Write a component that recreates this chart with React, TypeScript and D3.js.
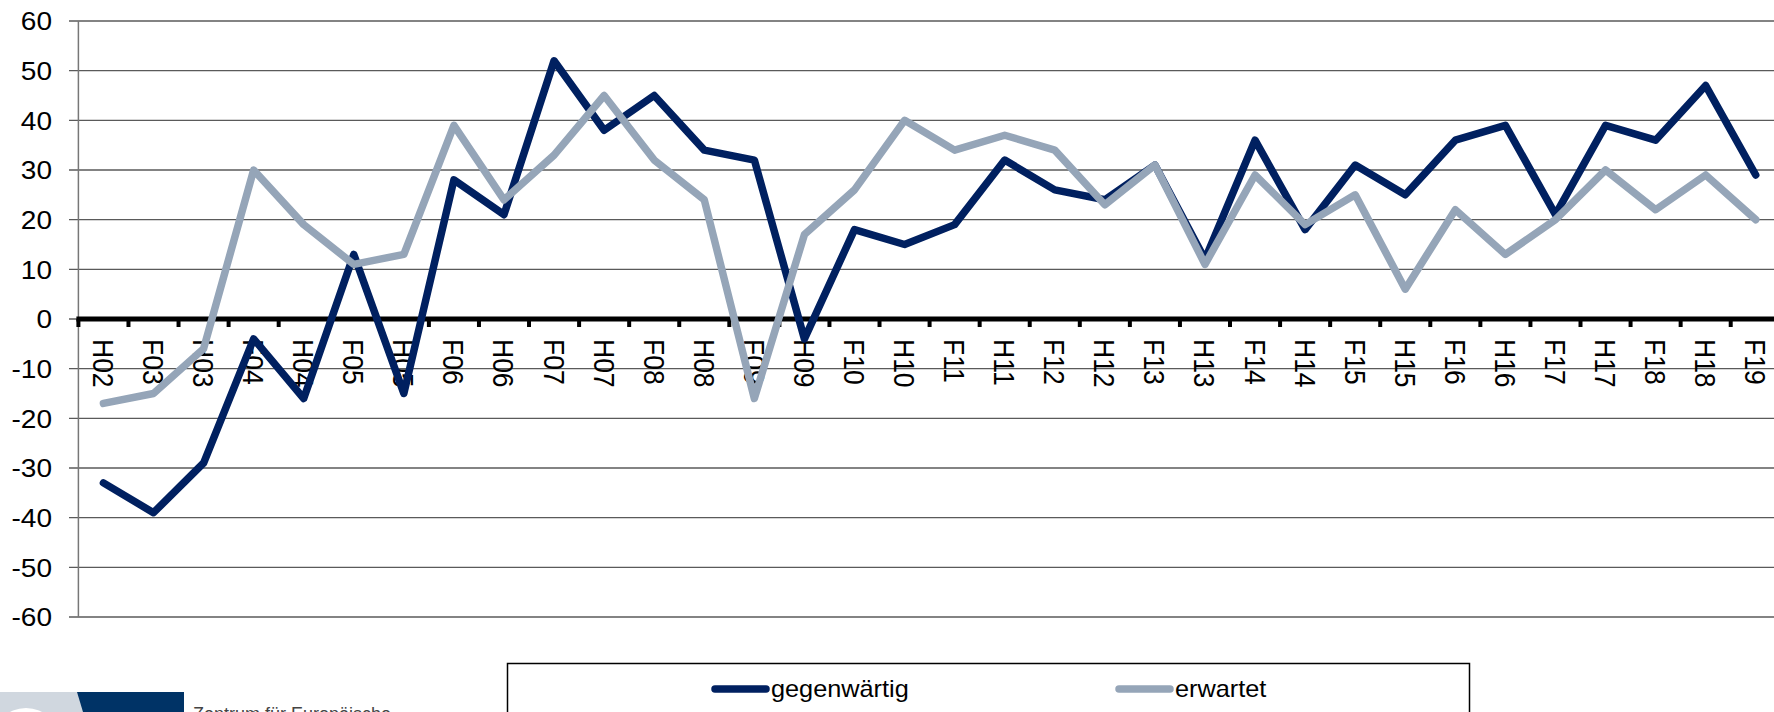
import React from 'react';
import * as d3 from 'd3';

const categories = [
  'H02', 'F03', 'H03', 'F04', 'H04', 'F05', 'H05', 'F06', 'H06', 'F07', 'H07', 'F08',
  'H08', 'F09', 'H09', 'F10', 'H10', 'F11', 'H11', 'F12', 'H12', 'F13', 'H13', 'F14',
  'H14', 'F15', 'H15', 'F16', 'H16', 'F17', 'H17', 'F18', 'H18', 'F19',
];

const gegenwaertig = [
  -33, -39, -29, -4, -16, 13, -15, 28, 21, 52, 38, 45, 34, 32, -4, 18, 15, 19, 32, 26,
  24, 31, 12, 36, 18, 31, 25, 36, 39, 21, 39, 36, 47, 29,
];

const erwartet = [
  -17, -15, -6, 30, 19, 11, 13, 39, 24, 33, 45, 32, 24, -16, 17, 26, 40, 34, 37, 34,
  23, 31, 11, 29, 19, 25, 6, 22, 13, 20, 30, 22, 29, 20,
];

const yTicks = [60, 50, 40, 30, 20, 10, 0, -10, -20, -30, -40, -50, -60];

const seriesNames = ['gegenwärtig', 'erwartet'];
const seriesColors = ['#002060', '#95a5b8'];

const W = 1774;
const H = 712;
const plot = { left: 78.4, top: 21, bottom: 617, catWidth: 50.07 };
const font = '"Liberation Sans", Arial, sans-serif';
const SX = 1.1; // original text looks slightly stretched horizontally

export default function App() {
  const x = d3.scaleBand()
    .domain(categories)
    .range([plot.left, plot.left + plot.catWidth * categories.length])
    .padding(0);

  const y = d3.scaleLinear()
    .domain([-60, 60])
    .range([plot.bottom, plot.top]);

  const cx = (c: string) => (x(c) || 0) + x.bandwidth() / 2;

  const line = d3.line<number>()
    .x((_, i) => cx(categories[i]))
    .y(d => y(d));

  const y0 = y(0);
  const boundaries = categories.map(c => x(c) || 0);

  return (
    <svg
      width={W}
      height={H}
      style={{ position: 'absolute', left: 0, top: 0, background: '#fff' }}
      fontFamily={font}
    >
      {/* horizontal gridlines + y tick marks */}
      {yTicks.map(t => (
        <line key={t} x1={69} x2={W} y1={y(t)} y2={y(t)} stroke="#5a5a5a" strokeWidth={1.3} />
      ))}
      {/* y axis */}
      <line x1={plot.left} x2={plot.left} y1={plot.top} y2={plot.bottom} stroke="#777" strokeWidth={1.5} />
      {yTicks.map(t => (
        <text
          key={'l' + t}
          transform={`translate(52,${y(t)}) scale(${SX},1)`}
          textAnchor="end"
          dy="0.36em"
          fontSize={25.5}
          fill="#000"
        >
          {t}
        </text>
      ))}

      {/* category labels, rotated */}
      {categories.map(c => (
        <text
          key={c}
          transform={`translate(${cx(c)},339) scale(${SX},1) rotate(90)`}
          textAnchor="start"
          dy="0.36em"
          fontSize={26.5}
          fill="#000"
        >
          {c}
        </text>
      ))}

      {/* zero axis with tick marks */}
      <line x1={plot.left - 2} x2={W} y1={y0} y2={y0} stroke="#000" strokeWidth={5} />
      {boundaries.map((b, i) => (
        <line key={'t' + i} x1={b} x2={b} y1={y0} y2={y0 + 8} stroke="#000" strokeWidth={4} />
      ))}

      {/* series */}
      {[gegenwaertig, erwartet].map((s, i) => (
        <path
          key={seriesNames[i]}
          d={line(s) || ''}
          fill="none"
          stroke={seriesColors[i]}
          strokeWidth={7.5}
          strokeLinejoin="round"
          strokeLinecap="round"
        />
      ))}

      {/* legend */}
      <rect x={507.5} y={663.5} width={962} height={80} fill="#fff" stroke="#000" strokeWidth={1.5} />
      {seriesNames.map((name, i) => {
        const lx = i === 0 ? 711 : 1115;
        return (
          <g key={name}>
            <line x1={lx + 4} x2={lx + 55} y1={689} y2={689} stroke={seriesColors[i]} strokeWidth={7.5} strokeLinecap="round" />
            <text transform={`translate(${lx + 60},697) scale(${SX},1)`} fontSize={23} fill="#000">
              {name}
            </text>
          </g>
        );
      })}

      {/* logo, cut off at the bottom edge */}
      <path d="M0,692 L78,692 L84,712 L0,712 Z" fill="#d0d7df" />
      <circle cx={26} cy={742} r={34} fill="#fff" />
      <path d="M77,692 L184,692 L184,712 L83,712 Z" fill="#003366" />
      <text x={95} y={735} fontSize={34} fontWeight="bold" fill="#fff">ZEW</text>
      <text x={193} y={720} fontSize={18} fill="#444">Zentrum für Europäische</text>
    </svg>
  );
}
